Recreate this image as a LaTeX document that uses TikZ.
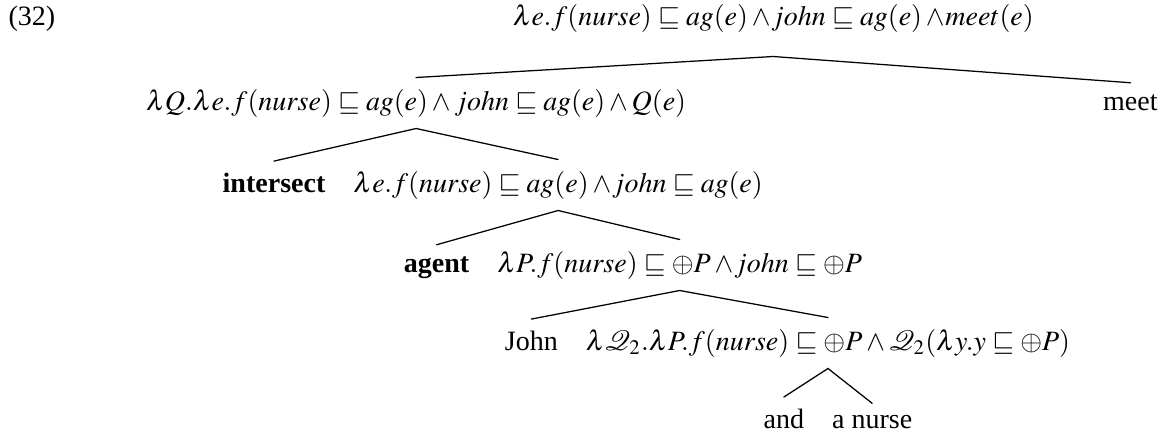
\documentclass[tikz,border=0pt]{standalone}
\usepackage{mathptmx}
\usepackage[no-math]{fontspec}
\setmainfont{Liberation Serif}
\usetikzlibrary{calc}
\begin{document}
\begin{tikzpicture}[x=0.357pt,y=-0.357pt,
  lbl/.style={inner xsep=0pt,inner ysep=3.9pt,anchor=base},
  branch/.style={line width=0.45pt,line cap=round}]
\useasboundingbox (0,0) rectangle (1173,434);
% baselines of the six rows
\coordinate (r1) at (0,25);
\coordinate (r2) at (0,110);
\coordinate (r3) at (0,192);
\coordinate (r4) at (0,272);
\coordinate (r5) at (0,350);
\coordinate (r6) at (0,428);
% row 6
\node[lbl,anchor=base west] (and) at (763,428) {and};
\node[lbl,anchor=base west] (anurse) at ($(and.base east)+(27,0)$) {a nurse};
% row 5
\coordinate (m5) at ($(and.center)!0.5!(anurse.center)$);
\node[lbl] (f5) at (m5 |- r5) {$\lambda \mathcal{Q}_2.\lambda P.f(nurse) \sqsubseteq \oplus P \wedge \mathcal{Q}_2(\lambda y.y \sqsubseteq \oplus P)$};
\node[lbl,anchor=base east] (john) at ($(f5.base west)+(-27,0)$) {John};
% row 4
\coordinate (m4) at ($(john.center)!0.5!(f5.center)$);
\node[lbl] (f4) at (m4 |- r4) {$\lambda P.f(nurse) \sqsubseteq \oplus P \wedge\! john \sqsubseteq \oplus P$};
\node[lbl,anchor=base east] (agent) at ($(f4.base west)+(-27,0)$) {\textbf{agent}};
% row 3
\coordinate (m3) at ($(agent.center)!0.5!(f4.center)$);
\node[lbl] (f3) at (m3 |- r3) {$\lambda e.f(nurse) \sqsubseteq ag(e) \wedge\! john \sqsubseteq ag(e)$};
\node[lbl,anchor=base east] (isect) at ($(f3.base west)+(-27,0)$) {\textbf{intersect}};
% row 2
\coordinate (m2) at ($(isect.center)!0.5!(f3.center)$);
\node[lbl] (f2) at (m2 |- r2) {$\lambda Q.\lambda e.f(nurse) \sqsubseteq ag(e) \wedge john \sqsubseteq ag(e) \wedge Q(e)$};
\coordinate (mm) at ($(f5.base east)+(32,0)$);
\node[lbl,anchor=base west] (meet) at (mm |- r2) {meet};
% row 1
\coordinate (m1) at ($(f2.center)!0.5!(meet.center)$);
\node[lbl] (root) at (m1 |- r1) {$\lambda e.f(nurse) \sqsubseteq ag(e) \wedge\! john \sqsubseteq ag(e) \wedge\! meet(e)$};
\node[lbl,anchor=base west] (num) at (8,25) {(32)};
% branches
\coordinate (rootfoot) at ($(root.south)+(0,13)$);
\draw[branch] (f2.north) -- (rootfoot) -- (meet.north);
\draw[branch] (isect.north) -- (f2.south) -- (f3.north);
\draw[branch] (agent.north) -- (f3.south) -- (f4.north);
\draw[branch] (john.north) -- (f4.south) -- (f5.north);
\draw[branch] (and.north) -- (f5.south) -- (anurse.north);
\end{tikzpicture}
\end{document}
